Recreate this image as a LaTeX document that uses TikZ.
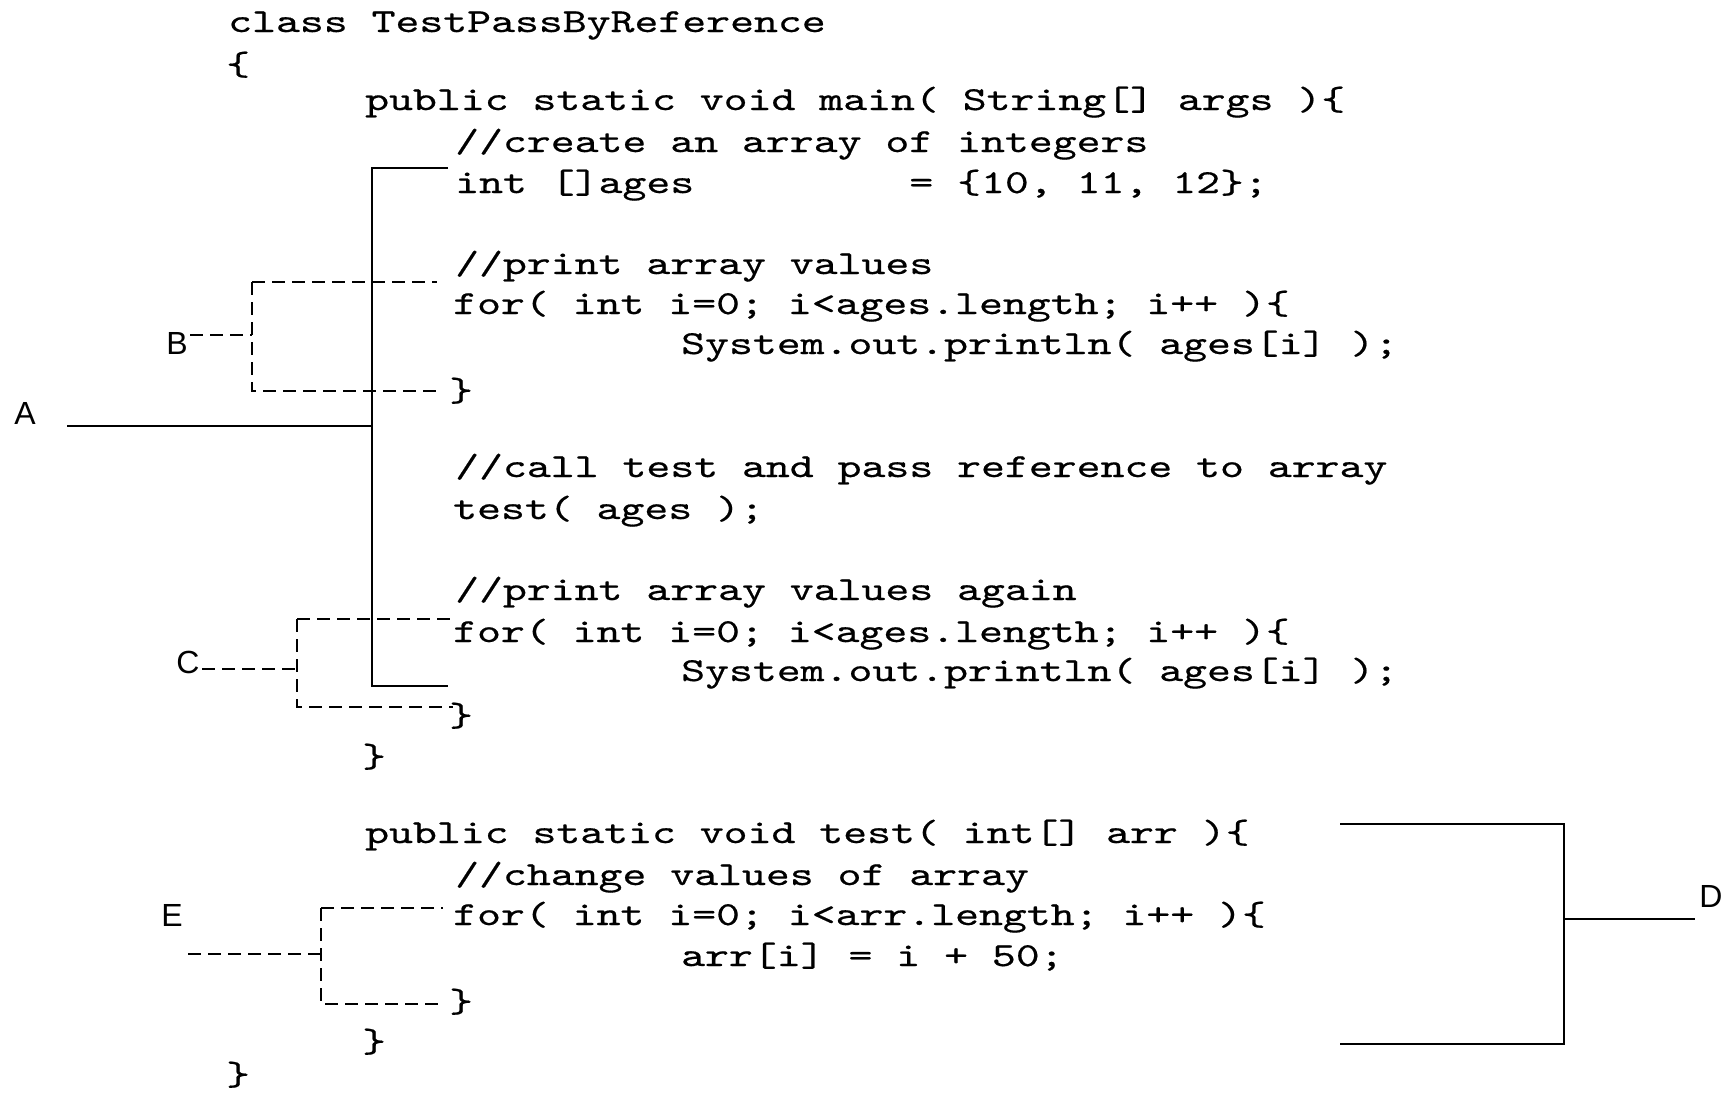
\documentclass[tikz,border=0pt]{standalone}
\usepackage{fontspec}
\newfontfamily\codefont[FakeStretch=1.355,FakeBold=0.5]{lmmono10-regular.otf}
\newfontfamily\labfont{Liberation Sans}
\begin{document}
\begin{tikzpicture}[x=1pt,y=-1pt,
  code/.style={anchor=base west,inner sep=0pt,font=\codefont\fontsize{33.6}{40}\selectfont},
  lab/.style={anchor=center,inner sep=0pt,font=\labfont\fontsize{32}{36}\selectfont},
  solidbr/.style={line width=2.7pt},
  dashbr/.style={line width=2.7pt,dash pattern=on 13pt off 7pt}]
\useasboundingbox[fill=white] (0,0) rectangle (1725,1093);

% code lines
\node[code] (l1) at (228,32) {class TestPassByReference};
\node[code] (l2) at (226,75) {\{};
\node[code] (l3) at (365,110) {public static void main( String[] args )\{};
\node[code] (l4) at (455,152) {//create an array of integers};
\node[code] (l5) at (455,193) {int []ages\ \ \ \ \ \ \ \ \ = \{10, 11, 12\};};
\node[code] (l6) at (455,274) {//print array values};
\node[code] (l7) at (453,314) {for( int i=0; i<ages.length; i++ )\{};
\node[code] (l8) at (681,354) {System.out.println( ages[i] );};
\node[code] (l9) at (449,401) {\}};
\node[code] (l10) at (455,477) {//call test and pass reference to array};
\node[code] (l11) at (453,519) {test( ages );};
\node[code] (l12) at (455,600) {//print array values again};
\node[code] (l13) at (453,642) {for( int i=0; i<ages.length; i++ )\{};
\node[code] (l14) at (681,681) {System.out.println( ages[i] );};
\node[code] (l15) at (449,726) {\}};
\node[code] (l16) at (362,767) {\}};
\node[code] (l17) at (365,843) {public static void test( int[] arr )\{};
\node[code] (l18) at (455,885) {//change values of array};
\node[code] (l19) at (453,925) {for( int i=0; i<arr.length; i++ )\{};
\node[code] (l20) at (681,966) {arr[i] = i + 50;};
\node[code] (l21) at (449,1012) {\}};
\node[code] (l22) at (362,1052) {\}};
\node[code] (l23) at (226,1085) {\}};

% labels
\node[lab] (A) at (25,413) {A};
\node[lab] (B) at (177,343) {B};
\node[lab] (C) at (188,662) {C};
\node[lab] (D) at (1711,896) {D};
\node[lab] (E) at (172,915) {E};

% bracket coordinates
\coordinate (a0) at (67,426);   \coordinate (a1) at (372,426);
\coordinate (at1) at (448,168); \coordinate (at0) at (372,168);
\coordinate (ab0) at (372,686); \coordinate (ab1) at (448,686);

\coordinate (b0) at (190,335);  \coordinate (b1) at (252,335);
\coordinate (bt1) at (437,282); \coordinate (bt0) at (252,282);
\coordinate (bb0) at (252,391); \coordinate (bb1) at (437,391);

\coordinate (c0) at (202,669);  \coordinate (c1) at (297,669);
\coordinate (ct1) at (453,619); \coordinate (ct0) at (297,619);
\coordinate (cb0) at (297,707); \coordinate (cb1) at (453,707);

\coordinate (d0) at (1695,919); \coordinate (d1) at (1564,919);
\coordinate (dt1) at (1340,824); \coordinate (dt0) at (1564,824);
\coordinate (db0) at (1564,1044); \coordinate (db1) at (1340,1044);

\coordinate (e0) at (188,954);  \coordinate (e1) at (321,954);
\coordinate (et1) at (443,908); \coordinate (et0) at (321,908);
\coordinate (eb0) at (321,1004); \coordinate (eb1) at (443,1004);

% A (solid)
\draw[solidbr] (at1) -- (at0) -- (ab0) -- (ab1);
\draw[solidbr] (a0) -- (a1);
% D (solid)
\draw[solidbr] (dt1) -- (dt0) -- (db0) -- (db1);
\draw[solidbr] (d1) -- (d0);
% B (dashed)
\draw[dashbr] (bt0) -- (bt1);
\draw[dashbr] (bt0) -- (bb0) -- (bb1);
\draw[dashbr] (b0) -- (b1);
% C (dashed)
\draw[dashbr] (ct0) -- (ct1);
\draw[dashbr] (ct0) -- (cb0) -- (cb1);
\draw[dashbr] (c0) -- (c1);
% E (dashed)
\draw[dashbr] (et0) -- (et1);
\draw[dashbr] (et0) -- (eb0) -- (eb1);
\draw[dashbr] (e0) -- (e1);
\end{tikzpicture}
\end{document}
